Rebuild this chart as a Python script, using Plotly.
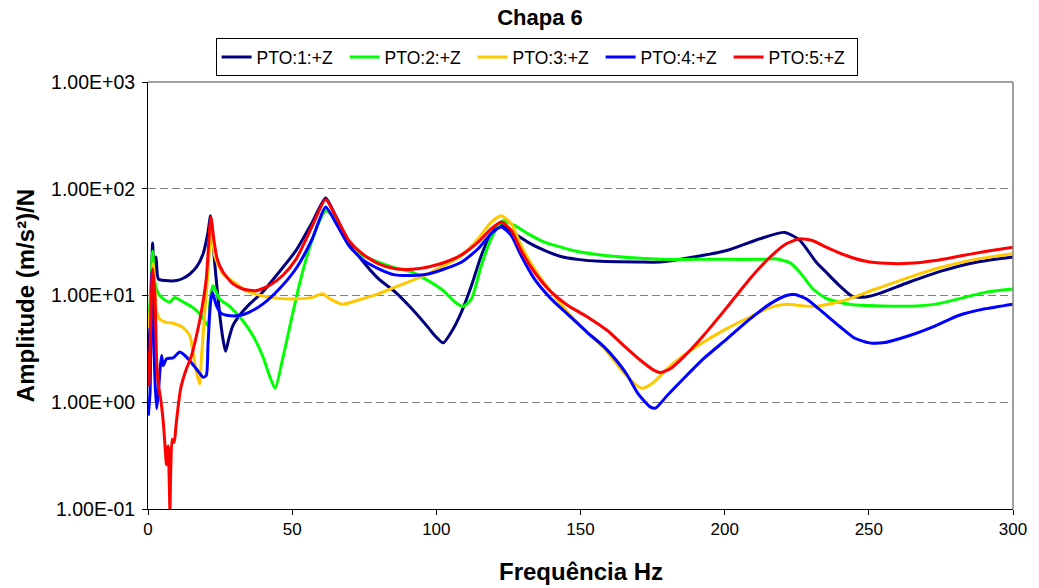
import plotly.graph_objects as go

# ---------------- data ----------------
freq_pto1 = [0.3, 1.0, 1.6, 2.1, 2.8, 3.6, 6, 10, 12.2, 14.5, 16.8, 19.1, 20.8, 21.7, 23.1, 24.8, 26, 26.9, 28,
             29.4, 31.7, 35.2, 39.8, 45.5, 51.3, 57, 61.6, 65, 69.7, 74.3, 80, 85.7, 91.5, 97.2, 99.5, 102.4,
             105.3, 108.7, 112.2, 115.6, 119, 122.5, 127.1, 131.7, 137.5, 143.2, 149, 157, 169.7, 177.7,
             189.2, 200.7, 212.2, 220.8, 226, 231.7, 235.2, 239.8, 244.4, 249, 253.5, 263.9, 275.4, 286.9, 300]
amp_pto1 = [3, 8, 31, 15.5, 23, 14.3, 13.8, 13.8, 14.5, 15.9, 18.4, 24.5, 39, 56, 20.5, 6.9, 3.9, 3.0, 3.9,
            5.2, 6.5, 8.3, 10.8, 16.6, 26.3, 48.7, 82, 56, 31.6, 21.3, 14.3, 10.8, 7.5, 5.0, 4.2, 3.6,
            4.6, 7, 12.4, 23.7, 38, 45.3, 38, 31.6, 26.4, 23.2, 21.8, 20.9, 20.6, 20.6,
            22.9, 26.4, 34, 39, 33, 20.6, 16.5, 12.4, 9.8, 9.7, 10.4, 13.3, 17, 20.4, 22.9]

freq_pto2 = [0.2, 1.0, 1.6, 2.4, 3.6, 5.3, 7.6, 9.3, 12.2, 15.6, 18.5, 20.8, 21.6, 22.5, 24.8, 28.3, 32.9,
             36.4, 39.8, 42.1, 44.1, 46.7, 49.5, 52.4, 55.9, 59.3, 61.6, 65, 69.7, 74.3, 80, 85.7, 91.5,
             96.1, 100.7, 102.4, 106.4, 109.3, 112.2, 115.6, 119, 123.1, 127.1, 131.7, 137.5, 143.2, 149,
             157, 169.7, 177.7, 189.2, 200.7, 212.2, 218, 222.6, 226, 230.6, 235.2, 238.6, 244.4, 252.4,
             263.9, 273.1, 281.1, 290.3, 300]
amp_pto2 = [5, 12, 26, 13.3, 10.4, 9.3, 8.7, 9.6, 8.7, 7.7, 6.5, 5.2, 9.3, 12.4, 9.3, 7.9, 5.8,
            4.2, 2.7, 1.78, 1.35, 2.55, 5.6, 12.4, 27.4, 48.7, 62.6, 52, 29.4, 23.7, 20.5, 18.1, 16.6,
            14.3, 12.0, 11.1, 8.7, 7.9, 9.3, 19.1, 34, 50, 45.3, 38, 31.6, 28.4, 25.8,
            24.0, 22.4, 21.8, 21.8, 21.8, 21.8, 22.0, 20.3, 16.6, 11.5, 9.4, 8.8, 8.2, 8.0,
            7.95, 8.3, 9.3, 10.7, 11.5]

freq_pto3 = [0.2, 1.0, 1.8, 2.5, 3.0, 4.1, 6.4, 8.7, 12.2, 14.5, 15.6, 16.8, 17.9, 18.5, 19.7, 20.8, 22.0,
             23.1, 26, 30.6, 34, 39.8, 45.5, 51.3, 57, 60.5, 62.8, 67.4, 74.3, 80, 85.7, 91.5, 97.2, 104.1,
             108.7, 114.5, 119, 122.5, 126, 129.4, 134, 139.8, 145.5, 152.4, 158.2, 163.9, 168, 171.4,
             175.4, 180, 185.7, 192.6, 200.7, 209.9, 215.6, 221.4, 227.1, 231.7, 238.6, 242.1, 252.4,
             263.9, 275.4, 286.9, 300]
amp_pto3 = [5, 9, 20, 10, 7, 6.0, 5.6, 5.5, 5.0, 4.2, 2.95, 1.9, 1.48, 2.55, 7, 16.6, 45,
            23.7, 15.9, 12.9, 11.1, 9.9, 9.4, 9.3, 9.6, 10.4, 9.4, 8.3, 9.3, 10.4, 12.0, 13.8, 16.0, 20.0,
            23.7, 34, 48.7, 56, 47, 29.4, 17.8, 10.8, 7, 4.5, 3.2, 2.05, 1.55, 1.35,
            1.54, 2.05, 2.74, 3.65, 4.9, 6.5, 7.7, 8.3, 8.0, 7.9, 8.6, 9.1, 11.5,
            14.8, 18.5, 21.8, 24.6]

freq_pto4 = [0.1, 0.7, 1.3, 1.9, 2.4, 3.0, 3.6, 4.1, 4.7, 5.3, 6.4, 8.7, 11.0, 12.8, 14.5, 16.8, 19.1,
             20.2, 20.8, 21.6, 22.3, 23.7, 25.4, 27.7, 31.7, 35.2, 39.8, 45.5, 51.3, 57, 61.6, 65, 69.7,
             74.3, 80, 85.7, 91.5, 97.2, 103, 108.7, 114.5, 119, 122.5, 126, 129.4, 134, 139.8, 145.5,
             152.4, 158.2, 163.9, 166.2, 170, 174.3, 176, 180, 185.7, 192.6, 200.7, 208.7, 215.6, 221.4,
             224.3, 228.3, 232.9, 240, 245, 250.2, 254.8, 263.9, 273.1, 281.1, 290.3, 300]
amp_pto4 = [0.75, 1.23, 16.6, 5, 1.66, 0.87, 1.23, 1.9, 2.74, 2.2, 2.55, 2.6, 2.95, 2.74, 2.45, 2.05, 1.72,
            1.78, 3.4, 8.1, 10.8, 8.1, 6.8, 6.5, 6.5, 7.0, 8.3, 11.5, 17.8, 34, 67.3, 48.7, 29.4,
            21.8, 17.8, 15.6, 15.4, 15.9, 17.8, 20.5, 27.4, 38, 43.8, 36.5, 23.7, 14.3, 9.3, 6.7,
            4.5, 3.3, 2.2, 1.8, 1.2, 0.9, 0.88, 1.15, 1.66, 2.55, 3.9, 6.0, 8.3, 10,
            10.2, 9.3, 7.4, 5.1, 4.0, 3.6, 3.6, 4.2, 5.2, 6.5, 7.5, 8.3]

freq_pto5 = [0.1, 0.3, 0.9, 1.6, 2.4, 3.0, 3.6, 4.4, 5.3, 5.9, 6.4, 7.0, 7.6, 7.9, 8.4, 9.1, 9.7, 10.5,
             11.3, 12.2, 13.3, 15.1, 16.8, 18.5, 20.2, 21.8, 22.8, 24, 26, 29.4, 32.9, 37.5, 42.1, 46.7,
             51.3, 57, 61.6, 65, 69.7, 74.3, 80, 85.7, 91.5, 97.2, 103, 108.7, 114.5, 119, 122.5, 126,
             129.4, 134, 139.8, 145.5, 152.4, 159.3, 165, 171, 175.4, 177.7, 181, 185.7, 192.6, 200.7,
             208.7, 215.6, 221.4, 226, 230.6, 235.2, 242.1, 249, 256, 263.9, 273.1, 281.1, 290.3, 300]
amp_pto5 = [3, 1.45, 4.9, 17.8, 10, 2.4, 1.45, 1.07, 0.65, 0.39, 0.26, 0.39, 0.1, 0.24, 0.45, 0.42, 0.6, 0.93,
            1.33, 1.66, 2.05, 2.74, 4.2, 7, 14.3, 54, 34, 22, 16.6, 12.9, 11.5, 11.1, 12.4, 15.4,
            21.8, 45, 79.4, 56, 32.6, 24.6, 19.8, 17.8, 17.6, 18.5, 20.5, 24, 31.6, 42, 48.7, 40.7,
            26.4, 16.6, 10.8, 8.1, 6.3, 4.7, 3.4, 2.45, 2.0, 1.9, 2.05, 2.65, 4.2, 7.7,
            14.3, 22.7, 30.5, 34, 32.6, 28.4, 23.7, 20.9, 20, 20, 21.3, 23.3, 25.8, 28.4]

series_names = ["PTO:1:+Z", "PTO:2:+Z", "PTO:3:+Z", "PTO:4:+Z", "PTO:5:+Z"]
series_colors = ["#000080", "#00FF00", "#FFC800", "#0000FF", "#FF0000"]

y_tick_values = [0.1, 1, 10, 100, 1000]
y_tick_labels = ["1.00E-01", "1.00E+00", "1.00E+01", "1.00E+02", "1.00E+03"]
x_tick_values = [0, 50, 100, 150, 200, 250, 300]
x_tick_labels = ["0", "50", "100", "150", "200", "250", "300"]

chart_title = "Chapa 6"
x_title = "Frequência Hz"
y_title = "Amplitude (m/s²)/N"

# ---------------- figure ----------------
FONT = "Liberation Sans, Arial, sans-serif"
freqs = [freq_pto1, freq_pto2, freq_pto3, freq_pto4, freq_pto5]
amps = [amp_pto1, amp_pto2, amp_pto3, amp_pto4, amp_pto5]

fig = go.Figure()
for name, color, fx, ay in zip(series_names, series_colors, freqs, amps):
    fig.add_trace(go.Scatter(
        x=fx, y=ay, name=name, mode="lines",
        line=dict(color=color, width=3, shape="spline", smoothing=0.6),
    ))

fig.update_layout(
    width=1039, height=588,
    margin=dict(l=148, r=21, t=82, b=79),
    paper_bgcolor="white", plot_bgcolor="white",
    font=dict(family=FONT, color="black"),
    title=dict(text="<b>" + chart_title + "</b>", x=540 / 1039, xref="container", xanchor="center",
               y=1 - 17 / 588, yref="container", yanchor="middle",
               font=dict(size=22, family=FONT, color="black")),
    legend=dict(orientation="h", x=(216 - 148) / 870, y=1.103, xanchor="left", yanchor="top",
                bordercolor="black", borderwidth=1, bgcolor="white",
                font=dict(size=17.5, family=FONT, color="black"),
                entrywidth=83, entrywidthmode="pixels"),
    showlegend=True,
)

fig.update_xaxes(
    range=[0, 300], tickvals=x_tick_values, ticktext=x_tick_labels,
    showgrid=False, zeroline=False, showline=True, linecolor="black", linewidth=1,
    ticks="outside", ticklen=5, tickcolor="black", tickwidth=1,
    tickfont=dict(size=17, family=FONT, color="black"),
)
fig.update_yaxes(
    type="log", range=[-1, 3], tickvals=y_tick_values, ticktext=y_tick_labels,
    showgrid=True, gridcolor="#808080", gridwidth=1, griddash="8px,4px",
    zeroline=False, showline=True, linecolor="black", linewidth=1,
    ticks="outside", ticklen=5, tickcolor="black", tickwidth=1,
    ticklabelstandoff=3,
    tickfont=dict(size=19.5, family=FONT, color="black"),
)

# plot-area frame (top and right sides, grey)
fig.add_shape(type="line", xref="paper", yref="paper", x0=0, x1=1, y0=1, y1=1,
              line=dict(color="#808080", width=1.5))
fig.add_shape(type="line", xref="paper", yref="paper", x0=1, x1=1, y0=0, y1=1,
              line=dict(color="#808080", width=1.5))

fig.add_annotation(text="<b>" + x_title + "</b>", xref="paper", yref="paper",
                   x=0.5, y=(509 - 571) / 427, xanchor="center", yanchor="middle",
                   showarrow=False, font=dict(size=24, family=FONT, color="black"))
fig.add_annotation(text="<b>" + y_title + "</b>", xref="paper", yref="paper",
                   x=(25 - 148) / 870, y=0.5, xanchor="center", yanchor="middle",
                   textangle=-90, showarrow=False, font=dict(size=24, family=FONT, color="black"))

fig.write_html("out.html")
